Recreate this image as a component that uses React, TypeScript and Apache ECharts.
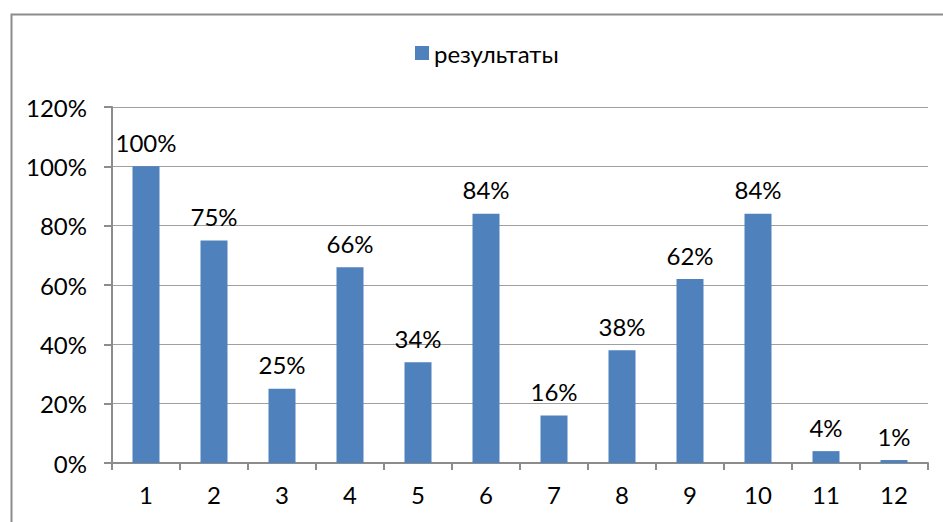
import React, { useEffect, useRef } from "react";
import * as echarts from "echarts";

const categories = ["1", "2", "3", "4", "5", "6", "7", "8", "9", "10", "11", "12"];
const values = [1.0, 0.75, 0.25, 0.66, 0.34, 0.84, 0.16, 0.38, 0.62, 0.84, 0.04, 0.01];
const seriesName = "результаты";

const FONT = "Lato, 'Noto Sans', sans-serif";

export default function App() {
  const ref = useRef<HTMLDivElement>(null);
  useEffect(() => {
    document.body.style.margin = "0";
    const chart = echarts.init(ref.current!, null, { renderer: "svg" });
    chart.setOption({
      animation: false,
      backgroundColor: "#ffffff",
      textStyle: { fontFamily: FONT },
      graphic: [
        {
          type: "rect",
          shape: { x: 11.5, y: 14.5, width: 1000, height: 600 },
          style: { fill: "none", stroke: "#8c8c8c", lineWidth: 2 },
          silent: true,
        },
      ],
      legend: {
        top: 36,
        left: 410,
        itemWidth: 14,
        itemHeight: 14,
        itemGap: 8,
        icon: "rect",
        textStyle: { fontSize: 24, color: "#000", fontFamily: FONT },
        data: [seriesName],
      },
      grid: { left: 112, right: 15, top: 107, bottom: 59, containLabel: false },
      xAxis: {
        type: "category",
        data: categories,
        axisLine: { lineStyle: { color: "#8c8c8c", width: 2 } },
        axisTick: { show: true, length: 7, lineStyle: { color: "#8c8c8c", width: 2 } },
        axisLabel: { fontSize: 24, color: "#000", margin: 19, fontFamily: FONT },
      },
      yAxis: {
        type: "value",
        min: 0,
        max: 1.2,
        interval: 0.2,
        axisLine: { show: true, lineStyle: { color: "#8c8c8c", width: 2 } },
        axisTick: { show: true, length: 8, lineStyle: { color: "#8c8c8c", width: 2 } },
        splitLine: { show: true, lineStyle: { color: "#a0a0a0", width: 1.2 } },
        axisLabel: {
          fontSize: 24,
          color: "#000",
          margin: 25,
          fontFamily: FONT,
          formatter: (v: number) => Math.round(v * 100) + "%",
        },
      },
      series: [
        {
          name: seriesName,
          type: "bar",
          data: values,
          barWidth: 27,
          itemStyle: { color: "#4F81BD" },
          label: {
            show: true,
            position: "top",
            distance: 12,
            fontSize: 24,
            color: "#000",
            fontFamily: FONT,
            formatter: (p: any) => Math.round(p.value * 100) + "%",
          },
        },
      ],
    });
    return () => chart.dispose();
  }, []);
  return <div ref={ref} style={{ width: 943, height: 522 }} />;
}
